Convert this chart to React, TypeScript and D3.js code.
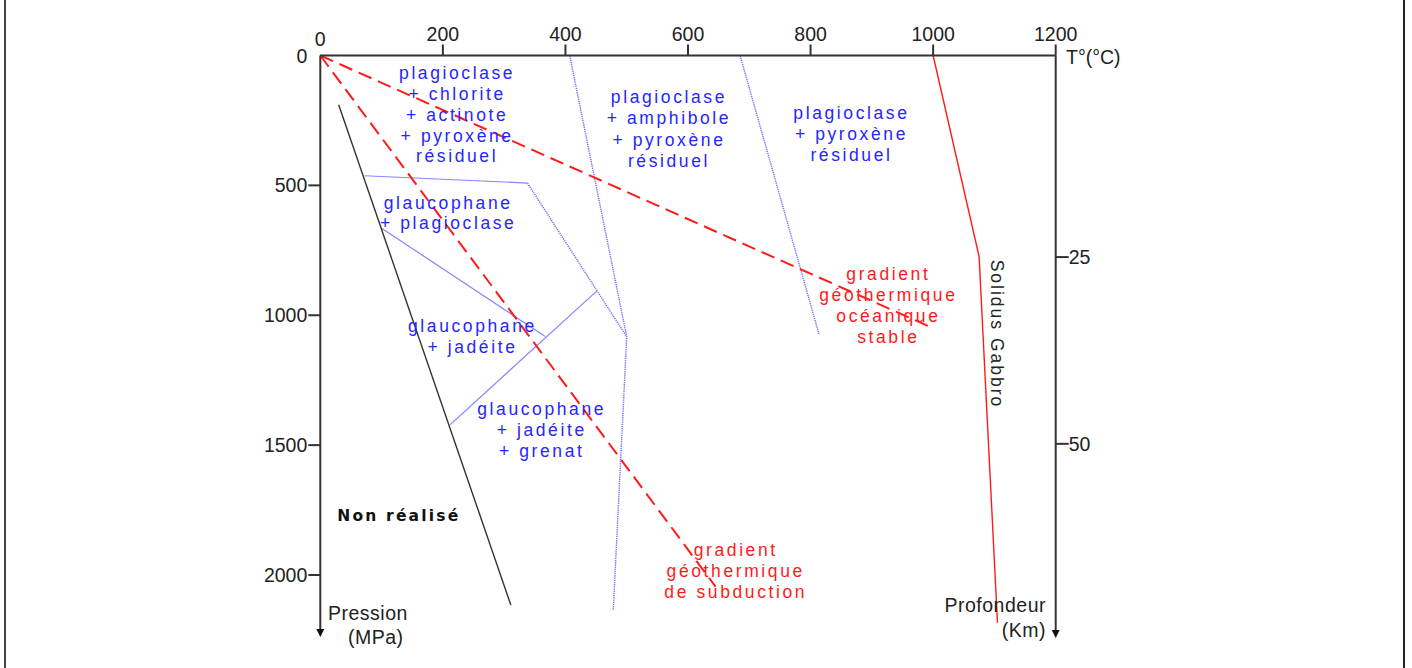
import React from 'react';
import * as d3 from 'd3';

// axes
const tempTicks = [0, 200, 400, 600, 800, 1000, 1200];
const pressureTicks = [0, 500, 1000, 1500, 2000];
const depthTicks = [25, 50];

// curves, as [T (°C), P (MPa)]
const subductionGradient: [number, number][] = [[0, 0], [645, 2045]];
const oceanicGradient: [number, number][] = [[0, 0], [1000, 1050]];
const solidusGabbro: [number, number][] = [[1000, 0], [1075, 774], [1105, 2184]];
const nonRealiseLimit: [number, number][] = [[30, 190], [311, 2116]];

// facies boundaries
const plagAmphBoundary: [number, number][] = [[407, 0], [500, 1083], [478, 2137]];
const amphPyxBoundary: [number, number][] = [[685, 0], [814, 1075]];
const glaucoPlagTop: [number, number][] = [[72, 463], [338, 491]];
const glaucoPlagRight: [number, number][] = [[338, 491], [500, 1083]];
const glaucoJadTop: [number, number][] = [[100, 665], [367, 1082]];
const grenatTop: [number, number][] = [[212, 1421], [451, 907]];

// labels
const zoneGreenschist = ['plagioclase', '+ chlorite', '+ actinote', '+ pyroxène', 'résiduel'];
const zoneAmphibolite = ['plagioclase', '+ amphibole', '+ pyroxène', 'résiduel'];
const zoneGranulite = ['plagioclase', '+ pyroxène', 'résiduel'];
const zoneBlueschist = ['glaucophane', '+ plagioclase'];
const zoneJadeite = ['glaucophane', '+ jadéite'];
const zoneEclogite = ['glaucophane', '+ jadéite', '+ grenat'];
const oceanicLabel = ['gradient', 'géothermique', 'océanique', 'stable'];
const subductionLabel = ['gradient', 'géothermique', 'de subduction'];

const W = 1412;
const H = 668;

const x = d3.scaleLinear().domain([0, 1200]).range([320.3, 1055.7]);
const y = d3.scaleLinear().domain([0, 2000]).range([55.5, 575]);
// depth in km on the right axis
const yDepth = d3.scaleLinear().domain([25, 50]).range([y(776), y(1495)]);

const line = d3.line<[number, number]>().x(d => x(d[0])).y(d => y(d[1]));

const axisColor = '#333';
const blueLine = '#8585ff';
const blueDots = '#6e6eff';
const blueText = '#2626ff';
const red = '#ff1a1a';
const font = '"Liberation Sans", Arial, sans-serif';

const Label = ({ lines, T, P, color, step = 20.9 }: { lines: string[]; T: number; P: number; color: string; step?: number }) => (
    <g>
        {lines.map((l, i) => (
            <text key={i} x={x(T) + 1.4} y={y(P) + i * step} textAnchor="middle" dominantBaseline="central"
                fontFamily={font} fontSize={17.5} letterSpacing={2.6} fill={color}>{l}</text>
        ))}
    </g>
);

const App = () => {
    return (
        <svg width={W} height={H} style={{ position: 'absolute', left: 0, top: 0, background: '#fff' }}>
            {/* frame sides */}
            <line x1={5} x2={5} y1={0} y2={H} stroke="#444" strokeWidth={2} />
            <line x1={1404} x2={1404} y1={0} y2={H} stroke="#222" strokeWidth={2} />

            {/* facies boundaries */}
            <g fill="none" stroke={blueLine} strokeWidth={1.2}>
                <path d={line(glaucoPlagTop)!} />
                <path d={line(glaucoJadTop)!} />
                <path d={line(grenatTop)!} />
            </g>
            <g fill="none" stroke={blueDots} strokeWidth={1.4} strokeDasharray="1.3,0.9">
                <path d={line(plagAmphBoundary)!} />
                <path d={line(amphPyxBoundary)!} />
                <path d={line(glaucoPlagRight)!} />
            </g>

            {/* non réalisé limit */}
            <path d={line(nonRealiseLimit)!} fill="none" stroke="#333" strokeWidth={1.4} />

            {/* gradients */}
            <g fill="none" stroke={red} strokeWidth={2}>
                <path d={line(subductionGradient)!} strokeDasharray="14,7" />
                <path d={line(oceanicGradient)!} strokeDasharray="14,7" />
            </g>
            <path d={line(solidusGabbro)!} fill="none" stroke={red} strokeWidth={1.4} />

            {/* axes */}
            <g stroke={axisColor} strokeWidth={2}>
                <line x1={x(0)} x2={x(1200)} y1={y(0)} y2={y(0)} />
                <line x1={x(0)} x2={x(0)} y1={y(0)} y2={630} />
                <line x1={x(1200)} x2={x(1200)} y1={y(0)} y2={631} />
                {tempTicks.filter(t => t > 0).map(t => (
                    <line key={t} x1={x(t)} x2={x(t)} y1={y(0)} y2={y(0) - 11} />
                ))}
                {pressureTicks.filter(p => p > 0).map(p => (
                    <line key={p} x1={x(0)} x2={x(0) - 12} y1={y(p)} y2={y(p)} />
                ))}
                {depthTicks.map(d => (
                    <line key={d} x1={x(1200)} x2={x(1200) + 13} y1={yDepth(d)} y2={yDepth(d)} />
                ))}
            </g>
            <path d={`M${x(0) - 4},629 L${x(0) + 4},629 L${x(0)},637 Z`} fill="#111" />
            <path d={`M${x(1200) - 4},630 L${x(1200) + 4},630 L${x(1200)},638 Z`} fill="#111" />

            <g fontFamily={font} fontSize={19.5} fill="#222">
                {tempTicks.map(t => (
                    <text key={t} x={x(t)} y={t === 0 ? 46 : 41} textAnchor="middle">{t}</text>
                ))}
                {pressureTicks.map(p => (
                    <text key={p} x={x(0) - 13} y={y(p)} textAnchor="end" dominantBaseline="central">{p}</text>
                ))}
                {depthTicks.map(d => (
                    <text key={d} x={x(1200) + 13} y={yDepth(d)} dominantBaseline="central">{d}</text>
                ))}
                <text x={1066} y={57} dominantBaseline="central">T°(°C)</text>
                <text x={328} y={613} dominantBaseline="central" letterSpacing={0.5}>Pression</text>
                <text x={348} y={637} dominantBaseline="central" letterSpacing={0.5}>(MPa)</text>
                <text x={1046} y={605} textAnchor="end" dominantBaseline="central" letterSpacing={0.5}>Profondeur</text>
                <text x={1046} y={630} textAnchor="end" dominantBaseline="central" letterSpacing={0.5}>(Km)</text>
            </g>

            {/* zone labels */}
            <Label lines={zoneGreenschist} T={221} P={68.5} color={blueText} step={20.8} />
            <Label lines={zoneAmphibolite} T={566.6} P={161} color={blueText} step={21.1} />
            <Label lines={zoneGranulite} T={864.4} P={220} color={blueText} step={21.1} />
            <Label lines={zoneBlueschist} T={206.4} P={566.7} color={blueText} step={20.7} />
            <Label lines={zoneJadeite} T={246} P={1040} color={blueText} step={21} />
            <Label lines={zoneEclogite} T={359} P={1362} color={blueText} step={21} />
            <Label lines={oceanicLabel} T={924.7} P={841} color={red} step={20.9} />
            <Label lines={subductionLabel} T={675.6} P={1904} color={red} step={20.8} />

            <text x={x(126.5) + 1} y={y(1771.7)} textAnchor="middle" dominantBaseline="central"
                fontFamily='"DejaVu Sans", Verdana, sans-serif' fontWeight="bold" fontSize={15.5} letterSpacing={2.2} fill="#111">
                Non réalisé
            </text>
            <text transform={`translate(${x(1103.7)},${y(1072)}) rotate(90)`} textAnchor="middle" dominantBaseline="central"
                fontFamily={font} fontSize={17.5} letterSpacing={2} fill="#222">
                Solidus Gabbro
            </text>
        </svg>
    );
};

export default App;
